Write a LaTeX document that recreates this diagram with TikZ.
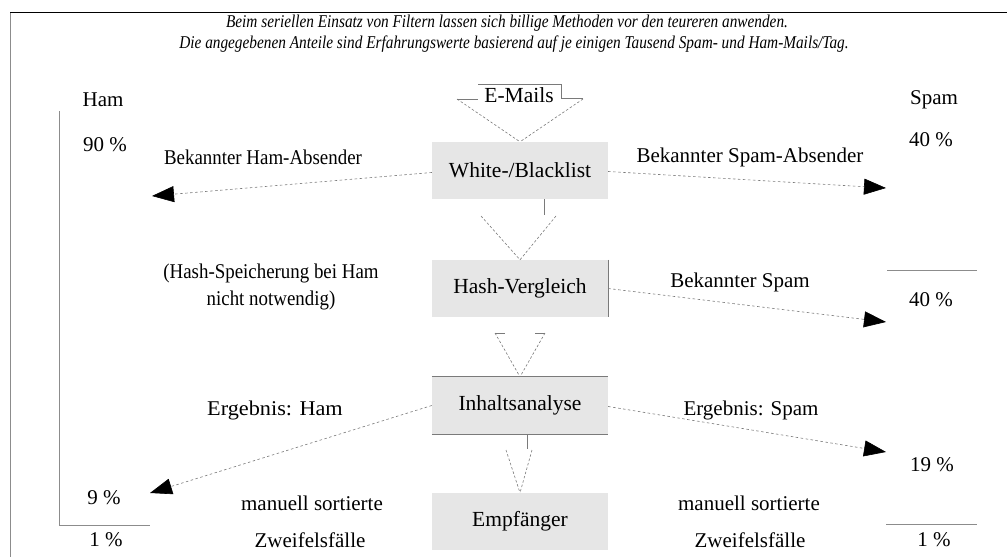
\documentclass[tikz,border=0pt]{standalone}
\usepackage{fontspec}
\setmainfont{Liberation Serif}
\newfontfamily\capfont{Liberation Serif}[FakeStretch=0.85]
\usetikzlibrary{arrows.meta,calc}
\definecolor{boxgray}{HTML}{E6E6E6}
\definecolor{linegray}{HTML}{7A7A7A}
\definecolor{framegray}{HTML}{8C8C8C}
\begin{document}
\begin{tikzpicture}[x=1pt,y=-1pt,
  stage/.style={fill=boxgray, minimum width=176pt, minimum height=57pt, inner sep=0pt,
                font=\fontsize{21.5}{24}\selectfont},
  lbl/.style={font=\fontsize{21}{28}\selectfont, inner sep=0pt, align=center},
  pct/.style={font=\fontsize{21}{24}\selectfont, inner sep=0pt},
  note/.style={font=\capfont\fontsize{18}{20}\selectfont\itshape, inner sep=0pt, align=center},
  bigtip/.style={-{Triangle[length=22pt,width=16pt,color=black]}},
  flow/.style={bigtip, draw=linegray, dash pattern=on 2.5pt off 2.5pt, line width=0.6pt},
  funnel/.style={draw=linegray, dash pattern=on 2.5pt off 2pt, line width=0.6pt},
  rail/.style={draw=framegray, line width=0.9pt},
  tick/.style={draw=linegray, line width=0.9pt}
]
\useasboundingbox (0,0) rectangle (1007,557);
\fill[white] (0,0) rectangle (1007,557);

% frame
\draw[black, line width=1.4pt] (10,12.5) -- (1007,12.5);
\draw[framegray, line width=0.9pt] (10,12.5) -- (10,557);

% caption
\node[note] (cap1) at (507,23) {Beim seriellen Einsatz von Filtern lassen sich billige Methoden vor den teureren anwenden.};
\node[note] (cap2) at (514,44) {Die angegebenen Anteile sind Erfahrungswerte basierend auf je einigen Tausend Spam- und Ham-Mails/Tag.};

% filter stages
\node[stage] (wb) at (520,170.5) {White-/Blacklist};
\node[stage] (hv) at (520,288.5) {Hash-Vergleich};
\node[stage] (ia) at (520,405.5) {Inhaltsanalyse};
\node[stage] (em) at (520,521.5) {Empfänger};
\draw[tick] (ia.north west) -- (ia.north east);
\draw[tick] (ia.south west) -- (ia.south east);
\draw[tick] (hv.north east) -- (hv.south east);

% incoming mail
\node[font=\fontsize{21.5}{24}\selectfont, inner sep=0pt] (mail) at (519,95) {E-Mails};
\draw[tick] (457,99) -- (478,99);
\draw[tick] (478,84) -- (561,84) -- (561,98) -- (583,98);
\draw[funnel] (457,99) -- (wb.north);
\draw[funnel] (583,99) -- (wb.north);

% hand-over chevrons between stages
\draw[tick] (544,199) -- (544,215);
\draw[funnel] (481,216) -- (hv.north);
\draw[funnel] (556,216) -- (hv.north);

\draw[tick] (495,333) -- (505,333);
\draw[tick] (535,333) -- (545,333);
\draw[funnel] (495,333) -- (ia.north);
\draw[funnel] (545,333) -- (ia.north);

\draw[tick] (527,435) -- (527,449);
\draw[funnel] (506,450) -- (em.north);
\draw[funnel] (532,450) -- (em.north);

% ham column
\node[pct] (hamh) at (103,100) {Ham};
\node[pct] (ham90) at (105,145) {90 \%};
\node[pct] (ham9) at (104,498) {9 \%};
\node[pct] (ham1) at (106,540) {1 \%};
\coordinate (hamtop) at (59,111);
\coordinate (hamB) at (152,196);
\coordinate (hamI) at (150,493);
\coordinate (hamM) at (150,525);
\draw[rail] (hamtop) -- (59,525) -- (hamM);

% spam column
\node[pct] (spamh) at (934,100) {Spam};
\node[pct] (spam40a) at (931,140) {40 \%};
\node[pct] (spam40b) at (931,300) {40 \%};
\node[pct] (spam19) at (932,465) {19 \%};
\node[pct] (spam1) at (934,540) {1 \%};
\coordinate (spamB) at (886,188);
\coordinate (spamH) at (886,322);
\coordinate (spamI) at (886,452);
\coordinate (spamM) at (886,524.5);
\draw[rail] (887,270) -- (977,270);
\draw[rail] (spamM) -- (977,524.5);

% routing arrows
\draw[flow] ($(wb.west)+(0,2)$) -- (hamB);
\draw[flow] ($(wb.east)+(0,1)$) -- (spamB);
\draw[flow] (hv.east) -- (spamH);
\draw[flow] (ia.west) -- (hamI);
\draw[flow] ($(ia.east)+(0,1)$) -- (spamI);
\draw[bigtip, draw=none] ($(hamM)+(22,0)$) -- (hamM);
\draw[bigtip, draw=none] ($(spamM)+(-22,0)$) -- (spamM);

% labels
\node[lbl] (lb1) at (263,157) {\scalebox{0.9}[1]{Bekannter Ham-Absender}};
\node[lbl] (lb2) at (750,157) {Bekannter Spam-Absender};
\node[lbl] (lb3) at (271,286) {\scalebox{0.9}[1]{\begin{tabular}{@{}c@{}}(Hash-Speicherung bei Ham\\[-1pt]nicht notwendig)\end{tabular}}};
\node[lbl] (lb4) at (740,282) {Bekannter Spam};
\node[lbl] (lb5) at (275,410) {\scalebox{1.06}[1]{Ergebnis: Ham}};
\node[lbl] (lb6) at (751,410) {Ergebnis: Spam};
\node[lbl] (lb7) at (312,503) {manuell sortierte};
\node[lbl] (lb8) at (310,540) {Zweifelsfälle};
\node[lbl] (lb9) at (749,503) {manuell sortierte};
\node[lbl] (lb10) at (750,540) {Zweifelsfälle};
\end{tikzpicture}
\end{document}
